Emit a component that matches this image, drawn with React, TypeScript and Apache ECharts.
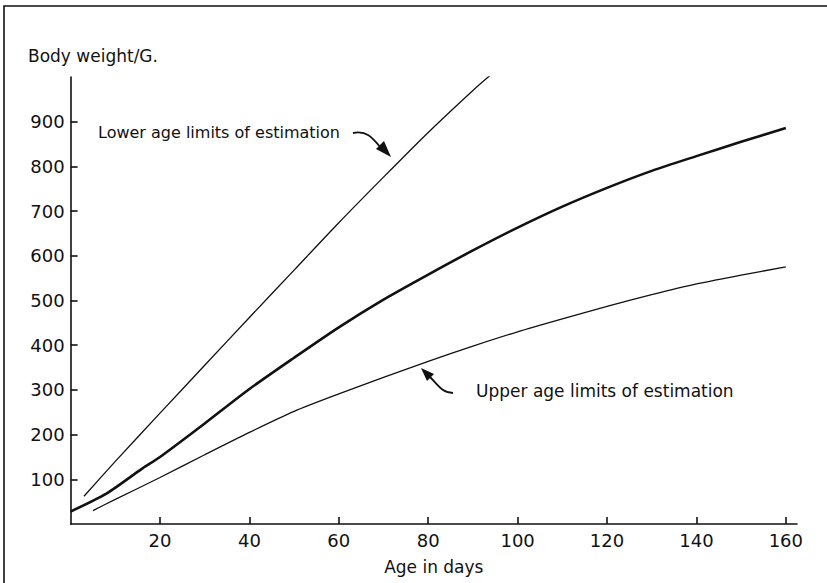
import React, { useEffect, useRef } from "react";
import * as echarts from "echarts";

// Body weight (g) against age (days)
const meanGrowth: [number, number][] = [
  [0, 28], [8, 68], [16, 124], [20, 150], [30, 225], [40, 302], [50, 372],
  [60, 440], [70, 502], [80, 558], [90, 612], [100, 663], [110, 710],
  [120, 752], [130, 790], [140, 823], [150, 855], [160, 886],
];
const lowerAgeLimit: [number, number][] = [
  [3, 62], [10, 140], [20, 248], [30, 355], [40, 462], [50, 568], [60, 674],
  [70, 776], [80, 876], [90, 970], [94, 1005],
];
const upperAgeLimit: [number, number][] = [
  [5, 30], [10, 55], [20, 104], [30, 155], [40, 205], [50, 252], [60, 291],
  [70, 328], [80, 364], [90, 398], [100, 430], [110, 459], [120, 487],
  [130, 513], [140, 537], [150, 557], [160, 575],
];
const xTicks = [20, 40, 60, 80, 100, 120, 140, 160];
const yTicks = [100, 200, 300, 400, 500, 600, 700, 800, 900];

const INK = "#111";
const FONT = "DejaVu Sans";

export default function App() {
  const ref = useRef<HTMLDivElement>(null);

  useEffect(() => {
    if (!ref.current) return;
    const chart = echarts.init(ref.current, null, { renderer: "svg" });

    const lineSeries = (data: [number, number][], width: number) => ({
      type: "line",
      data,
      showSymbol: false,
      smooth: 0.25,
      lineStyle: { color: INK, width },
      silent: true,
    });

    chart.setOption({
      animation: false,
      backgroundColor: "#fff",
      grid: { left: 70.6, right: 30, top: 77, bottom: 59 },
      xAxis: {
        type: "value",
        min: 0,
        max: 162.5,
        interval: 20,
        name: "Age in days",
        nameLocation: "middle",
        nameGap: 34,
        nameTextStyle: { color: INK, fontFamily: FONT, fontSize: 17 },
        axisLine: { lineStyle: { color: INK, width: 1.6 } },
        axisTick: {
          inside: true,
          length: 7,
          customValues: xTicks,
          lineStyle: { color: INK, width: 1.6 },
        },
        axisLabel: {
          customValues: xTicks,
          color: INK,
          fontFamily: FONT,
          fontSize: 18,
          margin: 7,
        },
        splitLine: { show: false },
      },
      yAxis: {
        type: "value",
        min: 0,
        max: 1000,
        interval: 100,
        axisLine: { show: true, lineStyle: { color: INK, width: 1.6 } },
        axisTick: {
          show: true,
          inside: true,
          length: 7,
          customValues: yTicks,
          lineStyle: { color: INK, width: 1.6 },
        },
        axisLabel: {
          customValues: yTicks,
          color: INK,
          fontFamily: FONT,
          fontSize: 18,
          margin: 6,
        },
        splitLine: { show: false },
      },
      series: [
        lineSeries(lowerAgeLimit, 1.3),
        lineSeries(meanGrowth, 2.6),
        lineSeries(upperAgeLimit, 1.3),
      ],
      graphic: [
        // frame
        {
          type: "polyline",
          shape: { points: [[4, 583], [4, 6], [827, 6]] },
          style: { stroke: INK, lineWidth: 1.6, fill: "none" },
        },
        {
          type: "text",
          left: 28,
          top: 47,
          style: { text: "Body weight/G.", fill: INK, font: `17px "${FONT}"` },
        },
        {
          type: "text",
          x: 98,
          y: 132,
          style: {
            text: "Lower age limits of estimation",
            fill: INK,
            font: `16px "${FONT}"`,
            verticalAlign: "middle",
          },
        },
        {
          type: "text",
          x: 476,
          y: 391,
          style: {
            text: "Upper age limits of estimation",
            fill: INK,
            font: `17px "${FONT}"`,
            verticalAlign: "middle",
          },
        },
        // pointer to the lower-limit line
        {
          type: "bezierCurve",
          shape: { x1: 353, y1: 133, x2: 381, y2: 148, cpx1: 366, cpy1: 130, cpx2: 372, cpy2: 137 },
          style: { stroke: INK, lineWidth: 1.8, fill: "none" },
        },
        {
          type: "polygon",
          shape: { points: [[391, 157], [376, 149], [384, 141]] },
          style: { fill: INK },
        },
        // pointer to the upper-limit line
        {
          type: "bezierCurve",
          shape: { x1: 453, y1: 393, x2: 430, y2: 377, cpx1: 442, cpy1: 393, cpx2: 438, cpy2: 385 },
          style: { stroke: INK, lineWidth: 1.8, fill: "none" },
        },
        {
          type: "polygon",
          shape: { points: [[421, 368], [434, 374], [427, 381]] },
          style: { fill: INK },
        },
      ],
    });

    return () => chart.dispose();
  }, []);

  return (
    <div
      ref={ref}
      style={{ position: "fixed", left: 0, top: 0, width: 827, height: 583, background: "#fff" }}
    />
  );
}
